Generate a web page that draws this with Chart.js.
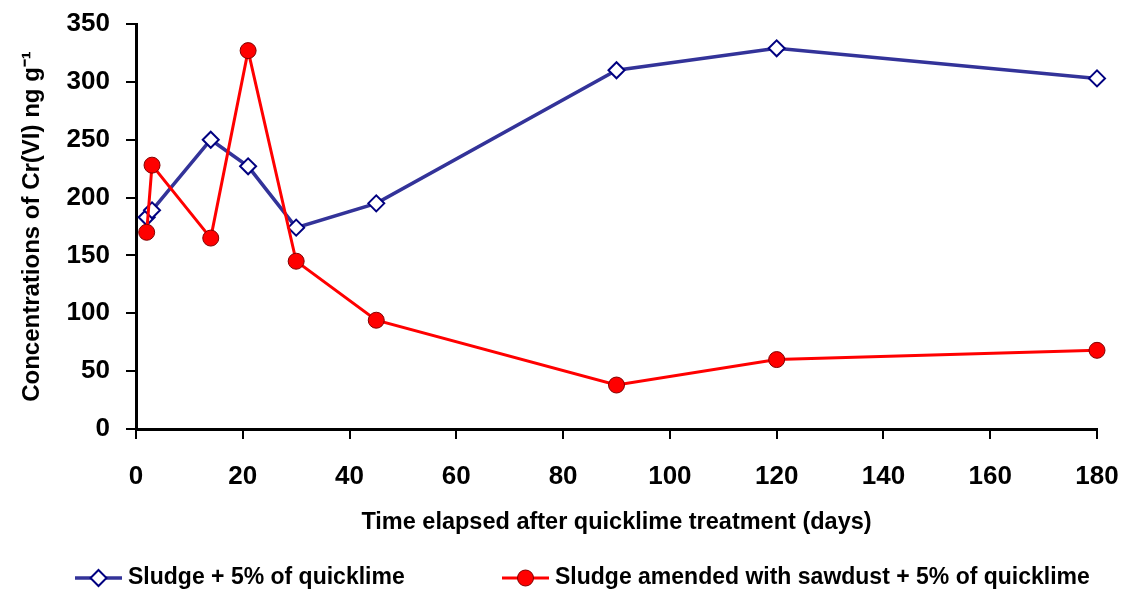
<!DOCTYPE html>
<html>
<head>
<meta charset="utf-8">
<script src="https://cdn.jsdelivr.net/npm/chart.js@4"></script>
<style>
  html, body { margin: 0; padding: 0; background: #fff; }
  #wrap { width: 1126px; height: 589px; }
</style>
</head>
<body>
<div id="wrap"><canvas id="grafico" width="1126" height="589"></canvas></div>
<script>
// dias após o tratamento com cal
const dias = [2, 3, 14, 21, 30, 45, 90, 120, 180];
// Lodo + 5% de cal
const lodoCal = [183, 189, 250, 227, 174, 195, 310, 329, 303];
// Lodo com serragem + 5% de cal
const lodoSerragem = [170, 228, 165, 327, 145, 94, 38, 60, 68];

const nomes = ['Sludge + 5% of quicklime', 'Sludge amended with sawdust + 5% of quicklime'];
const fonte = "Arial, 'Liberation Sans', sans-serif";

function pontos(xs, ys) {
    return xs.map((x, i) => ({ x: x, y: ys[i] }));
}

// legenda desenhada à mão (linha + marcador + texto)
const legendaPlugin = {
    id: 'legendaManual',
    afterDraw(chart) {
        const ctx = chart.ctx;
        const itens = [
            { ds: chart.data.datasets[1], x0: 75, x1: 122, tx: 128 },
            { ds: chart.data.datasets[0], x0: 502, x1: 549, tx: 555 }
        ];
        const y = 578;
        ctx.save();
        itens.forEach(it => {
            const ds = it.ds;
            const cx = (it.x0 + it.x1) / 2, r = ds.pointRadius;
            ctx.strokeStyle = ds.borderColor;
            ctx.lineWidth = ds.borderWidth;
            ctx.beginPath();
            ctx.moveTo(it.x0, y);
            ctx.lineTo(it.x1, y);
            ctx.stroke();
            ctx.fillStyle = ds.pointBackgroundColor;
            ctx.strokeStyle = ds.pointBorderColor;
            ctx.lineWidth = ds.pointBorderWidth;
            ctx.beginPath();
            if (ds.pointStyle === 'circle') {
                ctx.arc(cx, y, r, 0, Math.PI * 2);
            } else {
                ctx.moveTo(cx, y - r); ctx.lineTo(cx + r, y); ctx.lineTo(cx, y + r); ctx.lineTo(cx - r, y); ctx.closePath();
            }
            ctx.fill();
            ctx.stroke();
            ctx.fillStyle = '#000';
            ctx.font = 'bold 23px ' + fonte;
            ctx.textBaseline = 'middle';
            ctx.textAlign = 'left';
            ctx.fillText(ds.label, it.tx, y);
        });
        ctx.restore();
    }
};

new Chart(document.getElementById('grafico'), {
    type: 'line',
    data: {
        datasets: [
            {
                label: nomes[1],
                data: pontos(dias, lodoSerragem),
                borderColor: '#ff0000',
                borderWidth: 3,
                pointStyle: 'circle',
                pointRadius: 8,
                pointBackgroundColor: '#ff0000',
                pointBorderColor: '#800000',
                pointBorderWidth: 1,
                clip: false,
                order: 0
            },
            {
                label: nomes[0],
                data: pontos(dias, lodoCal),
                borderColor: '#333399',
                borderWidth: 3.5,
                pointStyle: 'rectRot',
                pointRadius: 8,
                pointBackgroundColor: '#ffffff',
                pointBorderColor: '#000080',
                pointBorderWidth: 2,
                clip: false,
                order: 1
            }
        ]
    },
    options: {
        responsive: false,
        animation: false,
        layout: { padding: { top: 24, right: 29, bottom: 43, left: 0 } },
        plugins: { legend: { display: false }, tooltip: { enabled: false } },
        scales: {
            x: {
                type: 'linear',
                min: 0, max: 180,
                ticks: { stepSize: 20, color: '#000', padding: 22, font: { family: fonte, size: 26, weight: 'bold' } },
                grid: { drawOnChartArea: false, tickLength: 10, color: '#000', lineWidth: 2 },
                border: { color: '#000', width: 3 },
                title: { display: true, text: 'Time elapsed after quicklime treatment (days)', color: '#000', padding: 9,
                         font: { family: fonte, size: 23.5, weight: 'bold' } },
                afterFit: s => { s.height = 117; s.paddingLeft = 0; s.paddingRight = 0; }
            },
            y: {
                min: 0, max: 350,
                ticks: { stepSize: 50, color: '#000', padding: 16, font: { family: fonte, size: 26, weight: 'bold' } },
                grid: { drawOnChartArea: false, tickLength: 10, color: '#000', lineWidth: 2 },
                border: { color: '#000', width: 3 },
                title: { display: true, text: 'Concentrations of Cr(VI) ng g\u207B\u00B9', color: '#000', padding: 18,
                         font: { family: fonte, size: 24, weight: 'bold' } },
                afterFit: s => { s.width = 136; s.paddingTop = 0; s.paddingBottom = 0; }
            }
        }
    },
    plugins: [legendaPlugin]
});
</script>
</body>
</html>
